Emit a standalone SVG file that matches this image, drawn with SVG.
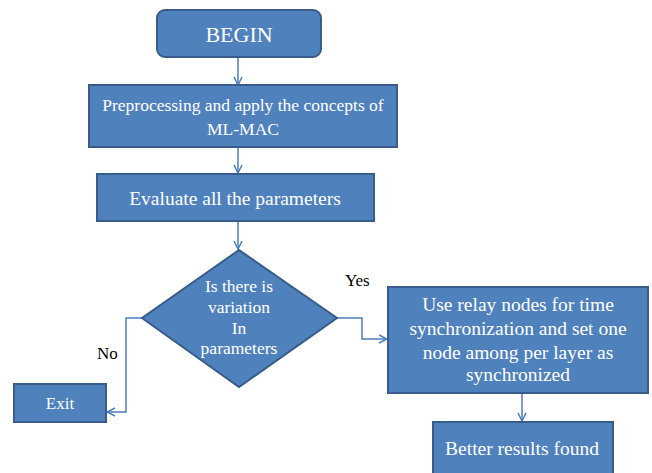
<svg xmlns="http://www.w3.org/2000/svg" width="652" height="473" viewBox="0 0 652 473">
<defs>
<marker id="arr" viewBox="0 0 10 10" refX="9" refY="5" markerWidth="10" markerHeight="10" markerUnits="userSpaceOnUse" orient="auto">
<path d="M1,1 L9,5 L1,9" fill="none" stroke="#4A7EBB" stroke-width="1.5"/>
</marker>
</defs>
<style>
.box{fill:#4F81BD;stroke:#385D8A;stroke-width:2}
.t{fill:#fff;font-family:"Liberation Serif",serif;text-anchor:middle}
.lbl{fill:#000;font-family:"Liberation Serif",serif;font-size:17px}
.c{fill:none;stroke:#4A7EBB;stroke-width:1.5;marker-end:url(#arr)}
</style>
<rect width="652" height="473" fill="#fff"/>
<g id="connectors">
<path class="c" d="M238,57 V85"/>
<path class="c" d="M238,147 V173"/>
<path class="c" d="M238,221 V249"/>
<path class="c" d="M142,318 H126 V412 H107"/>
<path class="c" d="M337,318 H362 V339 H387"/>
<path class="c" d="M522,393 V421"/>
</g>
<g id="begin">
<rect class="box" x="157" y="10" width="164" height="47" rx="8"/>
<text class="t" x="239" y="42" font-size="22">BEGIN</text>
</g>
<g id="preprocess">
<rect class="box" x="89" y="85" width="308" height="62"/>
<text class="t" x="243" y="111" font-size="17.5">Preprocessing and apply the concepts of</text>
<text class="t" x="243" y="135" font-size="17.5">ML-MAC</text>
</g>
<g id="evaluate">
<rect class="box" x="97" y="174" width="277" height="47"/>
<text class="t" x="235" y="205" font-size="19.5">Evaluate all the parameters</text>
</g>
<g id="decision">
<polygon class="box" points="239,250 337,318 239,387 142,318"/>
<text class="t" x="239" y="292" font-size="17.5">Is there is</text>
<text class="t" x="239" y="313" font-size="17.5">variation</text>
<text class="t" x="239" y="334" font-size="17.5">In</text>
<text class="t" x="239" y="354" font-size="17.5">parameters</text>
</g>
<g id="exit">
<rect class="box" x="14" y="384" width="92" height="38"/>
<text class="t" x="60" y="409" font-size="17">Exit</text>
</g>
<g id="relay">
<rect class="box" x="388" y="287" width="260" height="106"/>
<text class="t" x="518" y="311" font-size="19.5">Use relay nodes for time</text>
<text class="t" x="518" y="335" font-size="19.5">synchronization  and set one</text>
<text class="t" x="518" y="359" font-size="19.5">node among  per layer as</text>
<text class="t" x="518" y="381" font-size="19.5">synchronized</text>
</g>
<g id="better">
<rect class="box" x="433" y="422" width="180" height="55"/>
<text class="t" x="522" y="455" font-size="19.5">Better results found</text>
</g>
<text class="lbl" x="345" y="286">Yes</text>
<text class="lbl" x="97" y="359">No</text>
</svg>
